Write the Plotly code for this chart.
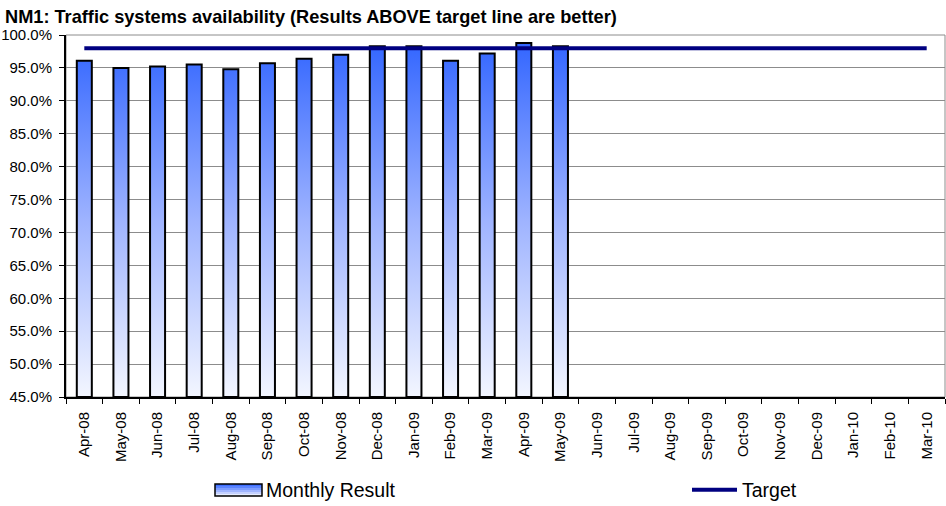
import plotly.graph_objects as go

# Monthly availability results (%) and the fixed target (%)
months = ["Apr-08", "May-08", "Jun-08", "Jul-08", "Aug-08", "Sep-08", "Oct-08", "Nov-08",
          "Dec-08", "Jan-09", "Feb-09", "Mar-09", "Apr-09", "May-09", "Jun-09", "Jul-09",
          "Aug-09", "Sep-09", "Oct-09", "Nov-09", "Dec-09", "Jan-10", "Feb-10", "Mar-10"]
monthly_result = [96.1, 95.0, 95.2, 95.5, 94.8, 95.7, 96.4, 97.0, 98.3, 98.3, 96.1, 97.2,
                  98.8, 98.3]
target = [98.0, 98.0, 98.0, 98.0, 98.0, 98.0, 98.0, 98.0, 98.0, 98.0, 98.0, 98.0,
          98.0, 98.0, 98.0, 98.0, 98.0, 98.0, 98.0, 98.0, 98.0, 98.0, 98.0, 98.0]
y_ticks = [45, 50, 55, 60, 65, 70, 75, 80, 85, 90, 95, 100]

W, H = 946, 506
M_L, M_R, M_T, M_B = 66, 1, 35, 109
Y_MIN, Y_MAX = 45, 100
BAR_HALF = 0.205
FONT = "Liberation Sans, Arial, sans-serif"
BAR_SCALE = [[0, "#F3F6FF"], [0.5, "#9EB3FF"], [1, "#3366FF"]]


def px_x(px):
    """Page x-pixel -> plot-area paper fraction."""
    return (px - M_L) / (W - M_L - M_R)


def px_y(py):
    """Page y-pixel (from top) -> plot-area paper fraction."""
    return (H - M_B - py) / (H - M_T - M_B)


# Build each column as a closed polygon so it can carry a vertical gradient fill
bx, by = [], []
for i, v in enumerate(monthly_result):
    x0, x1 = i - BAR_HALF, i + BAR_HALF
    bx += [x0, x0, x1, x1, x0, None]
    by += [Y_MIN, v, v, Y_MIN, Y_MIN, None]

fig = go.Figure()
fig.add_trace(go.Scatter(
    x=bx, y=by, mode="lines", fill="toself", name="Monthly Result",
    line=dict(color="black", width=2),
    fillgradient=dict(type="vertical", colorscale=BAR_SCALE),
    hoverinfo="skip", showlegend=False,
))
fig.add_trace(go.Scatter(
    x=list(range(len(months))), y=target, mode="lines", name="Target",
    line=dict(color="#000080", width=4),
))

# Legend swatch for the gradient columns: stacked strips plus a black frame
swatch_colors = ["#3F6FFF", "#5B84FF", "#7D9DFF", "#A0B5FF", "#C4D1FF", "#E6ECFF"]
sw_x0, sw_x1, sw_top, sw_bot = 215, 262, 484, 496
strip_h = (sw_bot - sw_top) / len(swatch_colors)
shapes = [dict(type="rect", xref="paper", yref="paper", x0=0, x1=1, y0=0, y1=1,
               line=dict(color="#8c8c8c", width=1), layer="below")]
for k, c in enumerate(swatch_colors):
    shapes.append(dict(type="rect", xref="paper", yref="paper",
                       x0=px_x(sw_x0), x1=px_x(sw_x1),
                       y0=px_y(sw_top + (k + 1) * strip_h), y1=px_y(sw_top + k * strip_h),
                       fillcolor=c, line=dict(width=0)))
shapes.append(dict(type="rect", xref="paper", yref="paper",
                   x0=px_x(sw_x0), x1=px_x(sw_x1), y0=px_y(sw_bot), y1=px_y(sw_top),
                   line=dict(color="black", width=1.5)))

fig.update_layout(
    width=W, height=H,
    margin=dict(l=M_L, r=M_R, t=M_T, b=M_B),
    paper_bgcolor="white", plot_bgcolor="white",
    font=dict(family=FONT, color="black", size=15),
    title=dict(text="<b>NM1: Traffic systems availability (Results ABOVE target line are better)</b>",
               x=5 / W, xanchor="left", xref="container",
               y=1 - 17 / H, yanchor="middle", yref="container",
               font=dict(family=FONT, size=18.2, color="black")),
    showlegend=True,
    legend=dict(orientation="h", xref="container", yref="container",
                x=687 / W, xanchor="left", y=1 - 490 / H, yanchor="middle",
                itemwidth=45,
                font=dict(family=FONT, size=19.5, color="black"),
                bgcolor="rgba(0,0,0,0)"),
    shapes=shapes,
    annotations=[dict(text="Monthly Result", xref="paper", yref="paper",
                      x=px_x(264), y=px_y(490), xanchor="left", yanchor="middle",
                      showarrow=False,
                      font=dict(family=FONT, size=19.5, color="black"))],
)

fig.update_xaxes(
    range=[-0.5, len(months) - 0.5],
    tickmode="array", tickvals=list(range(len(months))), ticktext=months,
    tickangle=-90, ticks="", showgrid=False, zeroline=False,
    showline=True, linecolor="black", linewidth=2,
    tickfont=dict(size=15, color="black"), ticklabelstandoff=7,
    minor=dict(tickmode="array", tickvals=[i - 0.5 for i in range(len(months) + 1)],
               ticks="outside", ticklen=5, tickcolor="black", tickwidth=1, showgrid=False),
)
fig.update_yaxes(
    range=[Y_MIN, Y_MAX], tickmode="array", tickvals=y_ticks,
    ticktext=[f"{t:.1f}%" for t in y_ticks],
    showgrid=True, gridcolor="#8c8c8c", gridwidth=1, zeroline=False,
    showline=True, linecolor="black", linewidth=2,
    ticks="outside", ticklen=5, tickcolor="black", tickwidth=1,
    tickfont=dict(size=15, color="black"), ticklabelstandoff=4,
)

fig.write_html("out.html")
